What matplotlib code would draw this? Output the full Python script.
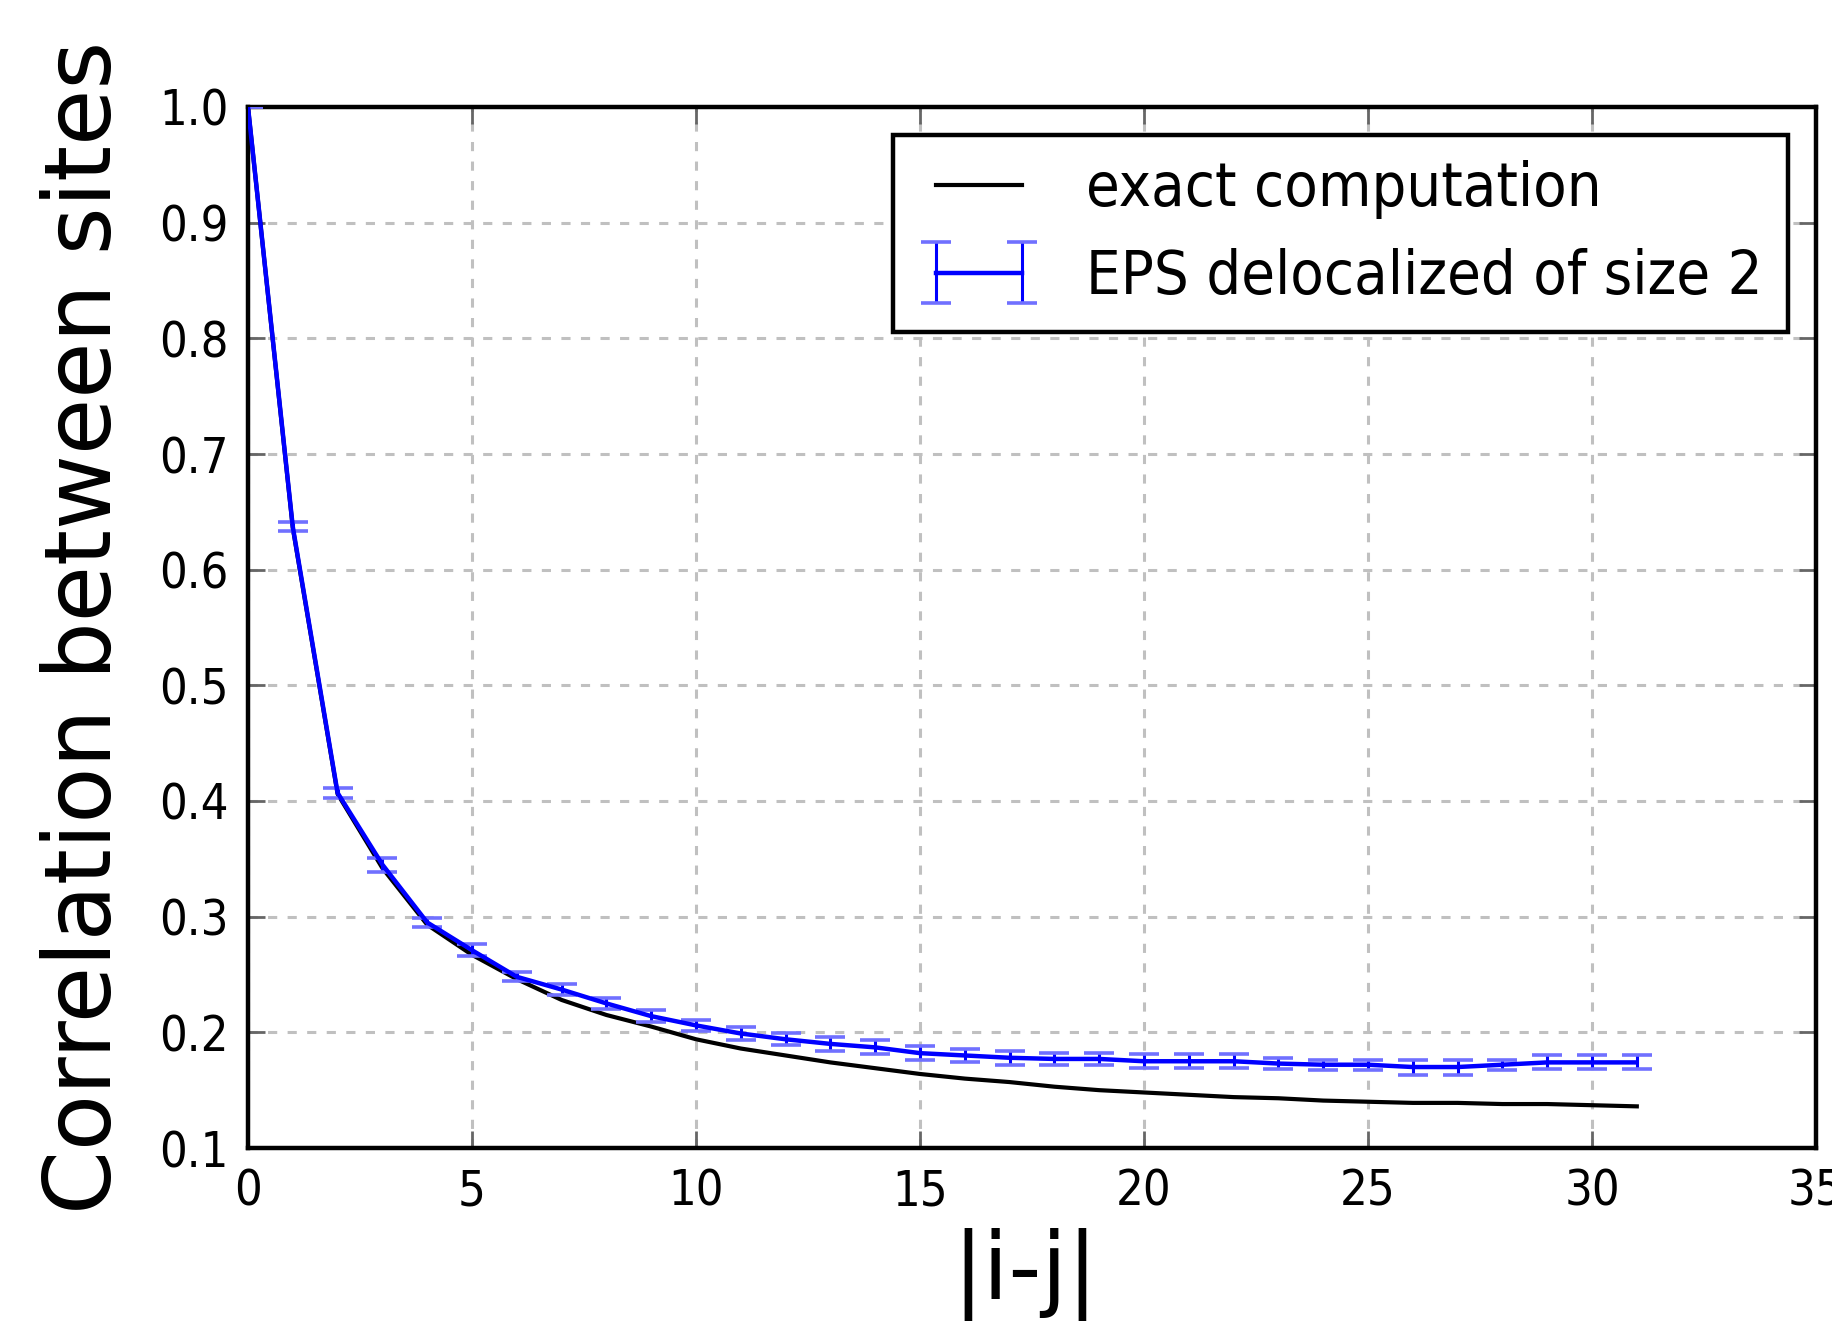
import matplotlib
matplotlib.use("Agg")
import matplotlib.pyplot as plt
import numpy as np

# ---- data ----
distance = list(range(32))
exact_corr = [1.000, 0.636, 0.406, 0.342, 0.293, 0.267, 0.246, 0.228, 0.215, 0.205,
              0.194, 0.186, 0.180, 0.174, 0.169, 0.164, 0.160, 0.157, 0.153, 0.150,
              0.148, 0.146, 0.144, 0.143, 0.141, 0.140, 0.139, 0.139, 0.138, 0.138,
              0.137, 0.136]
eps_corr = [1.000, 0.637, 0.407, 0.345, 0.295, 0.271, 0.248, 0.237, 0.225, 0.214,
            0.206, 0.199, 0.194, 0.190, 0.187, 0.182, 0.180, 0.178, 0.177, 0.177,
            0.175, 0.175, 0.175, 0.173, 0.172, 0.172, 0.170, 0.170, 0.172, 0.174,
            0.174, 0.174]
eps_err = [0.000, 0.004, 0.004, 0.006, 0.004, 0.005, 0.004, 0.005, 0.005, 0.005,
           0.005, 0.006, 0.005, 0.006, 0.006, 0.006, 0.006, 0.006, 0.005, 0.005,
           0.006, 0.006, 0.006, 0.005, 0.0045, 0.0045, 0.0065, 0.0065, 0.0045, 0.006,
           0.006, 0.006]
x_ticks = [0, 5, 10, 15, 20, 25, 30, 35]
y_ticks = [0.1, 0.2, 0.3, 0.4, 0.5, 0.6, 0.7, 0.8, 0.9, 1.0]
label_exact = "exact computation"
label_eps = "EPS delocalized of size 2"
xlabel = "|i-j|"
ylabel = "Correlation between sites"

plt.rcParams['font.family'] = ['DejaVu Sans']

W, H = 1833, 1330
fig = plt.figure(figsize=(W / 100, H / 100), dpi=100)
ax = fig.add_axes([248 / W, 1 - 1148 / H, 1568 / W, 1041 / H])

ax.plot(distance, exact_corr, color='black', lw=3.0, label=label_exact, zorder=3)
eb = ax.errorbar(distance, eps_corr, yerr=eps_err, color='blue', lw=3.2,
                 elinewidth=2.2, capsize=11, capthick=2.6, label=label_eps, zorder=4)
for cap in eb[1]:
    cap.set_color('#7070ff')
    cap.set_markeredgecolor('#7070ff')

ax.set_xlim(0, 35)
ax.set_ylim(0.1, 1.0)
ax.set_xticks(x_ticks)
ax.set_yticks(y_ticks)
ax.set_yticklabels([f"{v:.1f}" for v in y_ticks])

ax.grid(True, color='#c0c0c0', lw=2.2, linestyle=(0, (3.0, 3.4)), zorder=0)
ax.set_axisbelow(True)

for s in ax.spines.values():
    s.set_linewidth(3.2)
    s.set_color('black')

ax.tick_params(axis='both', which='major', direction='in', top=True, right=True,
               length=12, width=2.0, color='#666666', labelsize=35, pad=14,
               labelcolor='black')
for lab in ax.get_xticklabels() + ax.get_yticklabels():
    lab.set_fontstretch('condensed')

ax.set_xlabel(xlabel, fontsize=66)
ax.set_ylabel(ylabel, fontsize=66)
ax.xaxis.set_label_coords(0.496, -0.077)
ax.yaxis.set_label_coords(-0.075, 0.5)

leg = ax.legend(loc='upper right', numpoints=2, fancybox=False,
                prop={'size': 44, 'stretch': 'condensed'},
                framealpha=1, edgecolor='black', borderaxespad=0.46,
                borderpad=0.41, labelspacing=0.47, handlelength=2.0,
                handletextpad=0.75)
leg.get_frame().set_linewidth(3.2)

fig.savefig("out.png", dpi=100)
